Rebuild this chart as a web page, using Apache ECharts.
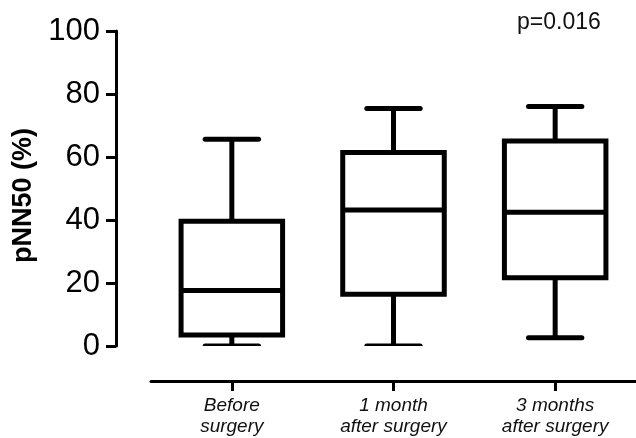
<!DOCTYPE html>
<html><head><meta charset="utf-8">
<script src="https://cdn.jsdelivr.net/npm/echarts@6/dist/echarts.min.js"></script>
<style>html,body{margin:0;padding:0;background:#fff}#c{width:636px;height:438px}</style>
</head><body><div id="c"></div>
<script>
const categories = ['Before\nsurgery', '1 month\nafter surgery', '3 months\nafter surgery'];
const minVals = [0, 0, 2.6];
const q1Vals = [3.5, 16.4, 21.7];
const medianVals = [17.6, 43.2, 42.5];
const q3Vals = [39.6, 61.4, 65.1];
const maxVals = [65.6, 75.4, 76.0];
const yTicks = [0, 20, 40, 60, 80, 100];
const pValueText = 'p=0.016';

const FONT = '"Liberation Sans", Arial, sans-serif';
const chart = echarts.init(document.getElementById('c'), null, {renderer: 'canvas'});
const boxData = categories.map((c, i) => [i, minVals[i], q1Vals[i], medianVals[i], q3Vals[i], maxVals[i]]);

function renderItem(params, api) {
  const idx = api.value(0);
  const band = api.size([1, 0])[0];
  const boxW = band * 0.628;
  const capW = band * 0.33;
  const pMin = api.coord([idx, api.value(1)]);
  const pQ1 = api.coord([idx, api.value(2)]);
  const pMed = api.coord([idx, api.value(3)]);
  const pQ3 = api.coord([idx, api.value(4)]);
  const pMax = api.coord([idx, api.value(5)]);
  const cx = pMin[0];
  const st = {stroke: '#000', lineWidth: 5, fill: null, lineCap: 'round', lineJoin: 'miter'};
  const stSq = {stroke: '#000', lineWidth: 5, fill: null, lineCap: 'butt', lineJoin: 'miter'};
  return {
    type: 'group',
    children: [
      {type: 'line', shape: {x1: cx, y1: pQ3[1], x2: cx, y2: pMax[1]}, style: stSq},
      {type: 'line', shape: {x1: cx, y1: pQ1[1], x2: cx, y2: pMin[1]}, style: stSq},
      {type: 'line', shape: {x1: cx - capW / 2, y1: pMax[1], x2: cx + capW / 2, y2: pMax[1]}, style: st},
      {type: 'line', shape: {x1: cx - capW / 2, y1: pMin[1], x2: cx + capW / 2, y2: pMin[1]}, style: st},
      {type: 'rect', shape: {x: cx - boxW / 2, y: pQ3[1], width: boxW, height: pQ1[1] - pQ3[1]}, style: {stroke: '#000', lineWidth: 5, fill: '#fff', lineJoin: 'miter'}},
      {type: 'line', shape: {x1: cx - boxW / 2, y1: pMed[1], x2: cx + boxW / 2, y2: pMed[1]}, style: stSq}
    ]
  };
}

chart.setOption({
  animation: false,
  backgroundColor: '#fff',
  title: {
    text: pValueText, left: 517, top: 11, padding: 0,
    textStyle: {fontFamily: FONT, fontSize: 23, fontWeight: 'normal', color: '#111'}
  },
  grid: {left: 151, top: 31, width: 492, height: 315, containLabel: false},
  xAxis: {
    type: 'category', data: categories, offset: 35,
    axisLine: {show: true, onZero: false, lineStyle: {color: '#000', width: 3}},
    axisTick: {show: true, alignWithLabel: true, length: 10, lineStyle: {color: '#000', width: 3}},
    axisLabel: {fontFamily: FONT, fontStyle: 'italic', fontSize: 19, lineHeight: 21, color: '#111', margin: 14},
    splitLine: {show: false}
  },
  yAxis: {
    type: 'value', min: yTicks[0], max: yTicks[yTicks.length - 1], interval: yTicks[1] - yTicks[0], offset: 35,
    axisLine: {show: true, onZero: false, lineStyle: {color: '#000', width: 3}},
    axisTick: {show: true, length: 10, lineStyle: {color: '#000', width: 3}},
    axisLabel: {fontFamily: FONT, fontSize: 31, color: '#000', margin: 16},
    splitLine: {show: false},
    name: 'pNN50 (%)', nameLocation: 'middle', nameGap: 74,
    nameTextStyle: {fontFamily: FONT, fontWeight: 'bold', fontSize: 27, color: '#000', padding: [0, 14, 0, 0]}
  },
  series: [{
    type: 'custom', renderItem: renderItem, clip: true,
    encode: {x: 0, y: [1, 2, 3, 4, 5]},
    data: boxData
  }]
});
</script></body></html>
